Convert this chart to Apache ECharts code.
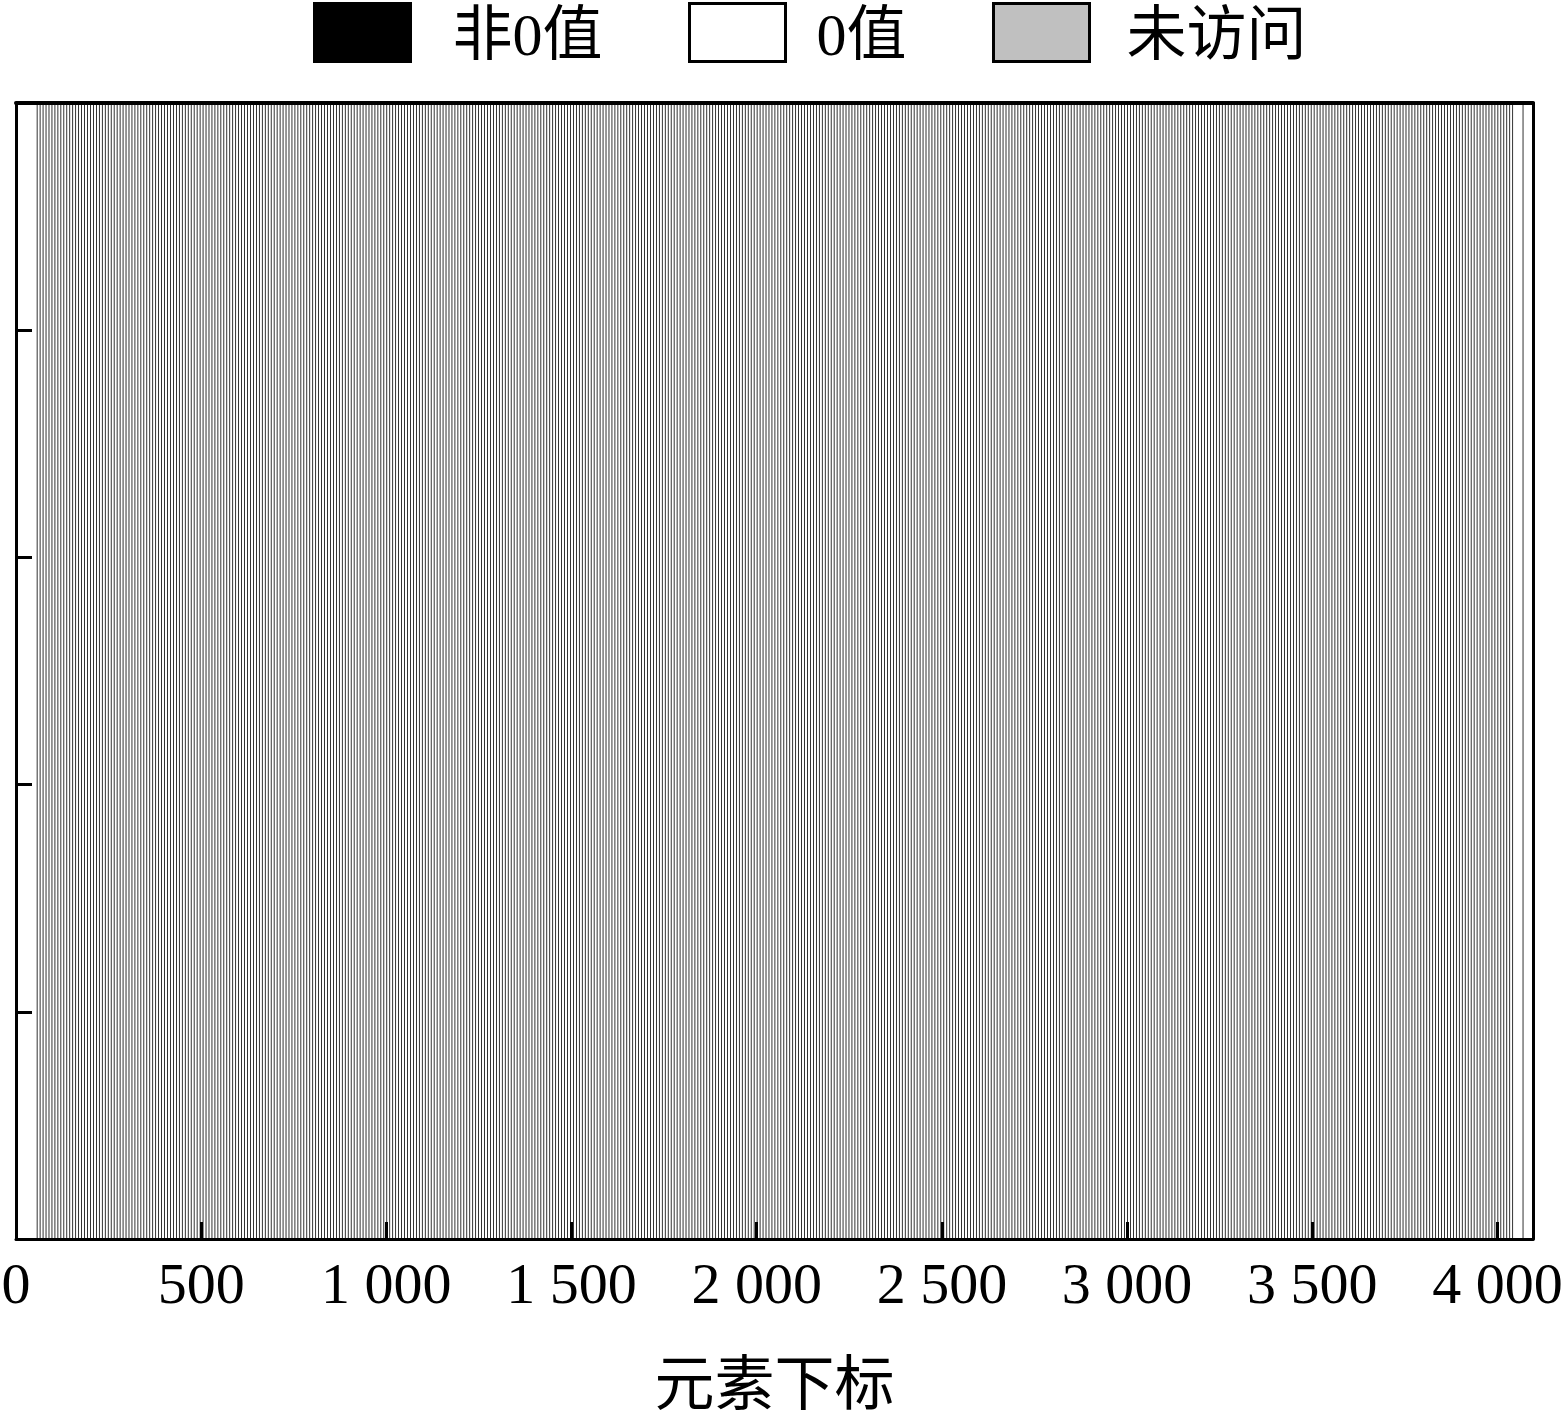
<!DOCTYPE html>
<html><head><meta charset="utf-8">
<script src="https://cdn.jsdelivr.net/npm/echarts@6/dist/echarts.min.js"></script>
<style>html,body{margin:0;padding:0;background:#fff}#c{width:1567px;height:1416px}</style>
</head><body><div id="c"></div>
<script>
// element count of the array
const elementCount = 4096;
// indices with non-zero values
const nonZeroIdx = [
56,64,72,80,88,96,104,112,120,128,136,144,152,160,168,176,
184,192,200,208,216,224,232,240,248,256,264,272,280,288,296,304,
312,320,328,336,344,352,360,368,376,384,392,400,408,416,424,432,
440,448,456,464,472,480,488,496,504,512,520,528,536,544,552,560,
568,576,584,592,600,608,616,624,632,640,648,656,664,672,680,688,
696,704,712,720,728,736,744,752,760,768,776,784,792,800,808,816,
824,832,840,848,856,864,872,880,888,896,904,912,920,928,936,944,
952,960,968,976,984,992,1000,1008,1016,1024,1032,1040,1048,1056,1064,1072,
1080,1088,1096,1104,1112,1120,1128,1136,1144,1152,1160,1168,1176,1184,1192,1200,
1208,1216,1224,1232,1240,1248,1256,1264,1272,1280,1288,1296,1304,1312,1320,1328,
1336,1344,1352,1360,1368,1376,1384,1392,1400,1408,1416,1424,1432,1440,1448,1456,
1464,1472,1480,1488,1496,1504,1512,1520,1528,1536,1544,1552,1560,1568,1576,1584,
1592,1600,1608,1616,1624,1632,1640,1648,1656,1664,1672,1680,1688,1696,1704,1712,
1720,1728,1736,1744,1752,1760,1768,1776,1784,1792,1800,1808,1816,1824,1832,1840,
1848,1856,1864,1872,1880,1888,1896,1904,1912,1920,1928,1936,1944,1952,1960,1968,
1976,1984,1992,2000,2008,2016,2024,2032,2040,2048,2056,2064,2072,2080,2088,2096,
2104,2112,2120,2128,2136,2144,2152,2160,2168,2176,2184,2192,2200,2208,2216,2224,
2232,2240,2248,2256,2264,2272,2280,2288,2296,2304,2312,2320,2328,2336,2344,2352,
2360,2368,2376,2384,2392,2400,2408,2416,2424,2432,2440,2448,2456,2464,2472,2480,
2488,2496,2504,2512,2520,2528,2536,2544,2552,2560,2568,2576,2584,2592,2600,2608,
2616,2624,2632,2640,2648,2656,2664,2672,2680,2688,2696,2704,2712,2720,2728,2736,
2744,2752,2760,2768,2776,2784,2792,2800,2808,2816,2824,2832,2840,2848,2856,2864,
2872,2880,2888,2896,2904,2912,2920,2928,2936,2944,2952,2960,2968,2976,2984,2992,
3000,3008,3016,3024,3032,3040,3048,3056,3064,3072,3080,3088,3096,3104,3112,3120,
3128,3136,3144,3152,3160,3168,3176,3184,3192,3200,3208,3216,3224,3232,3240,3248,
3256,3264,3272,3280,3288,3296,3304,3312,3320,3328,3336,3344,3352,3360,3368,3376,
3384,3392,3400,3408,3416,3424,3432,3440,3448,3456,3464,3472,3480,3488,3496,3504,
3512,3520,3528,3536,3544,3552,3560,3568,3576,3584,3592,3600,3608,3616,3624,3632,
3640,3648,3656,3664,3672,3680,3688,3696,3704,3712,3720,3728,3736,3744,3752,3760,
3768,3776,3784,3792,3800,3808,3816,3824,3832,3840,3848,3856,3864,3872,3880,3888,
3896,3904,3912,3920,3928,3936,3944,3952,3960,3968,3976,3984,3992,4000,4008,4016,
4024,4032,4040,4068
];
// zero-value ranges [start, end)
const zeroRanges = [[0, 4096]];
// unvisited ranges [start, end)
const unvisitedRanges = [];
const xTicks = [0,500,1000,1500,2000,2500,3000,3500,4000];
const legendNames = ['非0值','0值','未访问'];

const FONT = '"Liberation Serif","Noto Sans CJK SC",serif';
const YMAX = 5;

function fmt(v){ return String(v).replace(/\B(?=(\d{3})+(?!\d))/g,' '); }

function rangeRender(color){
  return function(params, api){
    const a = api.coord([api.value(0), YMAX]);
    const b = api.coord([api.value(1), 0]);
    return {type:'rect', shape:{x:a[0], y:a[1], width:b[0]-a[0], height:b[1]-a[1]},
      style:{fill:color}};
  };
}
function idxRender(params, api){
  const i = api.value(0);
  const a = api.coord([i, YMAX]);
  const b = api.coord([i + 1, 0]);
  const w = Math.max(b[0]-a[0], 0.8);
  return {type:'rect', shape:{x:a[0], y:a[1], width:w, height:b[1]-a[1]},
    style:{fill:'#000'}};
}

const axisBase = {
  axisLine:{show:true, onZero:false, lineStyle:{color:'#000', width:3}},
  splitLine:{show:false}, z:10
};

const legendLefts = [313, 688, 992];
const legendPads = [37, 26, 32];
function mkLegend(k){
  return {
    top:2, left:legendLefts[k], padding:0,
    itemWidth:96, itemHeight:58, itemGap:0,
    icon:'rect',
    data:[legendNames[k]],
    formatter:'{t|{name}}',
    textStyle:{fontFamily:FONT, fontSize:60, color:'#000',
      rich:{t:{fontFamily:FONT, fontSize:60, color:'#000', padding:[14,0,0,legendPads[k]]}}},
    itemStyle:{borderColor:'#000', borderWidth:3}
  };
}

const chart = echarts.init(document.getElementById('c'), null, {renderer:'canvas'});
chart.setOption({
  backgroundColor:'#fff',
  animation:false,
  legend:[mkLegend(0), mkLegend(1), mkLegend(2)],
  grid:{left:16, right:34, top:103, bottom:177, show:false, containLabel:false, outerBoundsMode:'none'},
  xAxis:[{
    ...axisBase,
    type:'value', min:0, max:elementCount, interval:500, position:'bottom',
    name:'元素下标', nameLocation:'middle', nameGap:120,
    nameTextStyle:{fontFamily:FONT, fontSize:60, color:'#000'},
    axisTick:{show:true, inside:true, length:17, lineStyle:{color:'#000', width:3},
      customValues: xTicks},
    axisLabel:{color:'#000', fontFamily:FONT, fontSize:58, margin:20,
      customValues: xTicks, formatter:v=>fmt(v)}
  },{
    ...axisBase,
    type:'value', min:0, max:elementCount, position:'top',
    axisLine:{show:true, onZero:false, lineStyle:{color:'#000', width:4}},
    axisTick:{show:false}, axisLabel:{show:false}
  }],
  yAxis:[{
    ...axisBase,
    type:'value', min:0, max:YMAX, interval:1, position:'left',
    axisTick:{show:true, inside:true, length:16, lineStyle:{color:'#000', width:3}},
    axisLabel:{show:false}
  },{
    ...axisBase,
    type:'value', min:0, max:YMAX, interval:1, position:'right',
    axisTick:{show:false}, axisLabel:{show:false}
  }],
  series:[
    {name:'0值', type:'custom', renderItem:rangeRender('#fff'), data:zeroRanges, z:1,
      itemStyle:{color:'#fff', borderColor:'#000', borderWidth:3}},
    {name:'未访问', type:'custom', renderItem:rangeRender('#c0c0c0'), data:unvisitedRanges, z:2,
      itemStyle:{color:'#c0c0c0', borderColor:'#000', borderWidth:3}},
    {name:'非0值', type:'custom', renderItem:idxRender, data:nonZeroIdx.map(v=>[v]), z:3,
      itemStyle:{color:'#000', borderColor:'#000', borderWidth:3}}
  ]
});
</script></body></html>
